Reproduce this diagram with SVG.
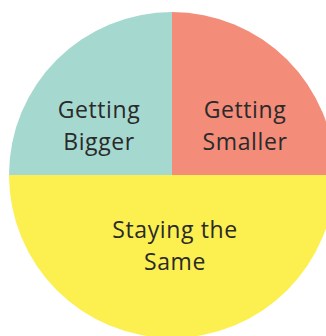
<svg xmlns="http://www.w3.org/2000/svg" width="326" height="336" viewBox="0 0 326 336">
  <style>
    .lbl { font-family: "Open Sans", "Noto Sans", sans-serif; font-size: 23px; fill: #2a2a2a; text-anchor: middle; letter-spacing: 0.6px; }
  </style>
  <rect width="326" height="336" fill="#ffffff"/>
  <g id="slice-bigger">
    <path d="M172,175 L9,175 A163,163 0 0 1 172,12 Z" fill="#a5d9d0"/>
    <text class="lbl" x="99" y="118">Getting</text>
    <text class="lbl" x="99" y="150">Bigger</text>
  </g>
  <g id="slice-smaller">
    <path d="M172,175 L172,12 A163,163 0 0 1 335,175 Z" fill="#f48c7a"/>
    <text class="lbl" x="245" y="118">Getting</text>
    <text class="lbl" x="245" y="150">Smaller</text>
  </g>
  <g id="slice-same">
    <path d="M172,175 L335,175 A163,163 0 0 1 9,175 Z" fill="#fcf050"/>
    <text class="lbl" x="175" y="238">Staying the</text>
    <text class="lbl" x="175" y="270">Same</text>
  </g>
</svg>
